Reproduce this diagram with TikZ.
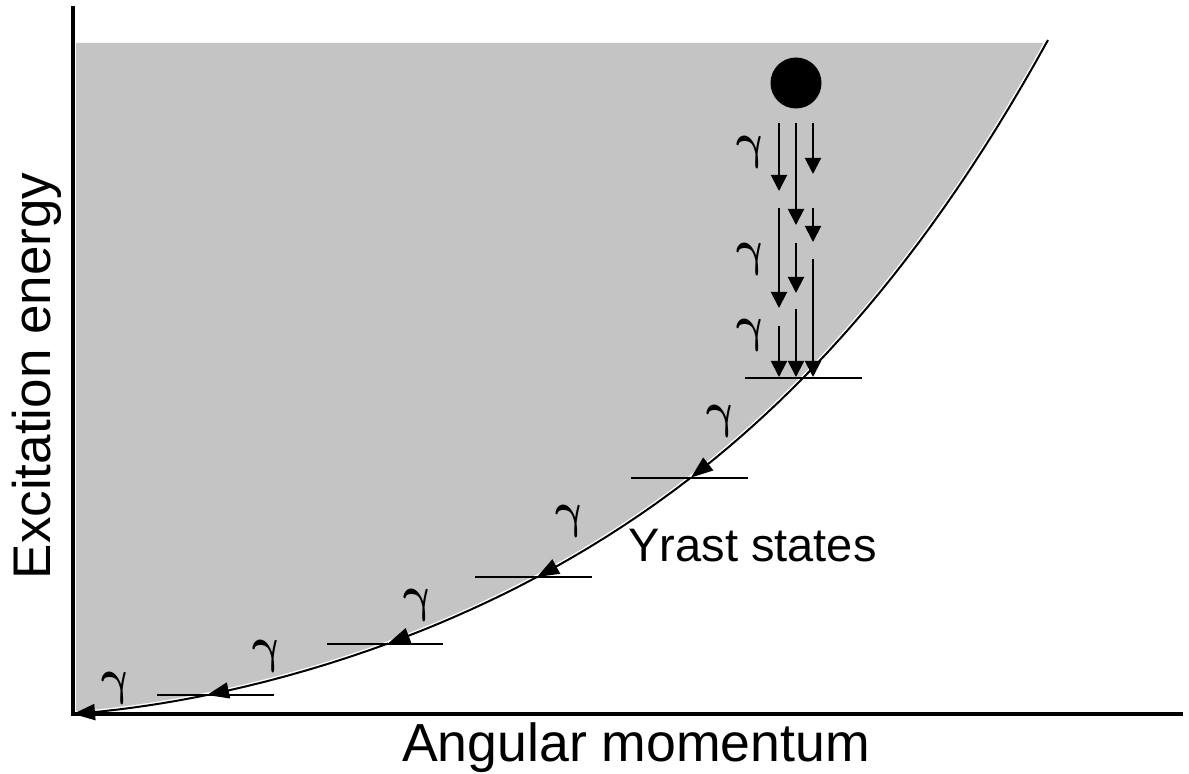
\documentclass[tikz,border=0pt]{standalone}
\usepackage{fontspec}
\setmainfont{Liberation Sans}
\usepackage{xcolor}
\usetikzlibrary{arrows.meta}
\usetikzlibrary{math}
\definecolor{bandgray}{RGB}{196,196,196}
\tikzset{
  levline/.style={line width=1pt},
  gline/.style={line width=1pt},
  gtip/.style={-{Triangle[length=8pt,width=8pt]}},
  ytip/.style={-{Triangle[length=11pt,width=8pt]}},
  glab/.style={font=\boldmath\fontsize{24}{27}\selectfont, inner sep=0pt, xslant=-0.22, xscale=0.86},
}
\begin{document}
\begin{tikzpicture}[x=0.5pt,y=-0.5pt,
  declare function={ss(\u)=(\u-72)/1000;
    yr(\u)=714-(73.73*ss(\u)+532.85*ss(\u)^2-329.97*ss(\u)^3+442.2*ss(\u)^4);}]
\tikzmath{
\xtop=1046;
\xend=1048;
}
\useasboundingbox (0,0) rectangle (1189,774);

%shaded region above the yrast line
\fill[bandgray] (76,43) -- (\xtop,43) -- plot[domain=\xtop:76,samples=60] (\x,{yr(\x)}) -- cycle;
\draw[white,line width=2.4pt] plot[domain=72:\xend,samples=80] (\x,{yr(\x)});

%axes
\coordinate (O) at (73,714);
\coordinate (ytop) at (73,6);
\coordinate (xend) at (1183,714);
\draw[line width=2pt] (ytop) -- (O) -- (xend);

%yrast line, upper part
\draw[line width=1pt] plot[domain=\xend:803,samples=20] (\x,{yr(\x)});

%yrast levels
\foreach \xl/\xa/\xb [count=\i] in {207/157/274, 388/327/443, 537/475/592, 691/631/748, 803/745/862}{
  \coordinate (lev\i) at (\xl,{yr(\xl)});
  \draw[levline] (\xa,{yr(\xl)}) -- (\xb,{yr(\xl)});
}

%gammas along the yrast line
\foreach \xa/\xb in {803/691, 691/537, 537/388, 388/207, 207/73}{
  \draw[line width=1pt,ytip] plot[domain=\xa:\xb,samples=10] (\x,{yr(\x)});
}

%compound nucleus and cascade
\node[circle,fill=black,inner sep=0pt,minimum size=25.5pt] (nuc) at (796,83) {};
\foreach \cx/\ya/\yb [count=\k] in {779/123/191, 779/208/308, 779/326/377,
    796/123/225, 796/243/293, 796/309/377,
    813/123/174, 813/208/242, 813/259/377}{
  \coordinate (c\k a) at (\cx,\ya);
  \coordinate (c\k b) at (\cx,\yb);
  \draw[gline,gtip] (c\k a) -- (c\k b);
}

%labels
\foreach \gx/\gy [count=\j] in {752/152, 752/259, 752/335, 722/421, 571/521, 419/605, 268/656, 117/688}{
  \node[glab] (g\j) at (\gx,\gy) {$\gamma$};
}
\node[font=\fontsize{23.5}{27}\selectfont,inner sep=0pt,anchor=base west] (yrast) at (628,562) {Yrast states};
\node[font=\fontsize{26.8}{30}\selectfont,inner sep=0pt,anchor=base] (xlab) at (636,762) {Angular momentum};
\node[font=\fontsize{26.5}{30}\selectfont,inner sep=0pt,anchor=base,rotate=90] (ylab) at (50,376) {Excitation energy};
\end{tikzpicture}
\end{document}
